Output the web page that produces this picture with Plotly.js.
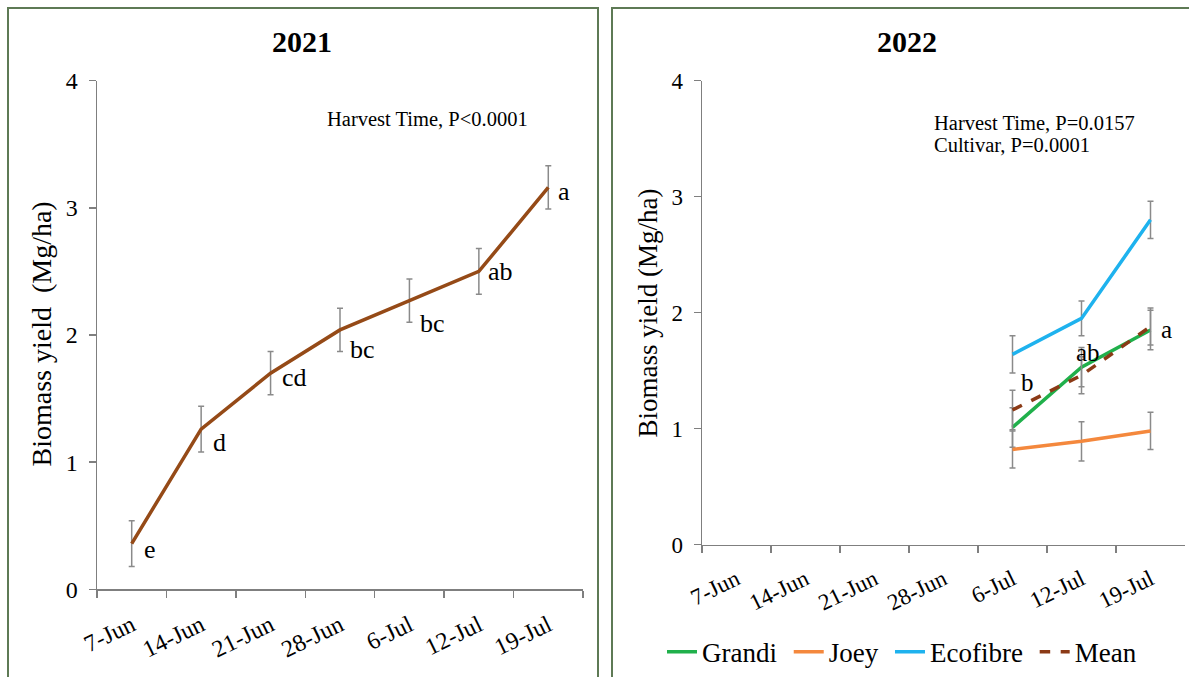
<!DOCTYPE html>
<html>
<head>
<meta charset="utf-8">
<script src="https://cdn.plot.ly/plotly-3.0.1.min.js"></script>
<style>html,body{margin:0;padding:0;background:#fff;}#chart{width:1189px;height:677px;}</style>
</head>
<body>
<div id="chart"></div>
<script>
// ---- data ----
var dates = ['7-Jun','14-Jun','21-Jun','28-Jun','6-Jul','12-Jul','19-Jul'];
var yield2021 = [0.36, 1.26, 1.70, 2.04, 2.27, 2.50, 3.16];
var err2021 = [0.18, 0.18, 0.17, 0.17, 0.17, 0.18, 0.17];
var letters2021 = ['e','d','cd','bc','bc','ab','a'];

var dates2022 = ['6-Jul','12-Jul','19-Jul'];
var grandi = [1.01, 1.53, 1.85];
var grandiErr = [0.17, 0.17, 0.17];
var joey = [0.82, 0.89, 0.98];
var joeyErr = [0.16, 0.17, 0.16];
var ecofibre = [1.64, 1.95, 2.80];
var ecofibreErr = [0.16, 0.15, 0.16];
var meanYield = [1.16, 1.46, 1.88];
var meanErr = [0.17, 0.16, 0.16];
var letters2022 = ['b','ab','a'];
var seriesNames = ['Grandi','Joey','Ecofibre','Mean'];

// ---- styling ----
var W = 1189, H = 677;
var FONT = '"Liberation Serif", serif';
var NB = '\u00a0';
var errStyle = function(arr){ return {type:'data', array:arr, visible:true, color:'#8a8a8a', thickness:1.5, width:3}; };

var traces = [
  {x: dates, y: yield2021, type:'scatter', mode:'lines', xaxis:'x', yaxis:'y', showlegend:false,
   name:'2021', line:{color:'#954A17', width:3.5}, error_y: errStyle(err2021)},
  {x: dates2022, y: grandi, type:'scatter', mode:'lines', xaxis:'x2', yaxis:'y2', name:seriesNames[0] + NB,
   line:{color:'#20B04B', width:3.5}, error_y: errStyle(grandiErr)},
  {x: dates2022, y: joey, type:'scatter', mode:'lines', xaxis:'x2', yaxis:'y2', name:seriesNames[1] + NB,
   line:{color:'#F4883D', width:3.5}, error_y: errStyle(joeyErr)},
  {x: dates2022, y: ecofibre, type:'scatter', mode:'lines', xaxis:'x2', yaxis:'y2', name:seriesNames[2] + NB,
   line:{color:'#1EB2EE', width:3.5}, error_y: errStyle(ecofibreErr)},
  {x: dates2022, y: meanYield, type:'scatter', mode:'lines', xaxis:'x2', yaxis:'y2', name:seriesNames[3],
   line:{color:'#8B3A16', width:3.5, dash:'dash'}, error_y: errStyle(meanErr)}
];

function px(x){ return x / W; }
function py(y){ return 1 - y / H; }

function xAxis(domain, fs){
  return {domain: domain, type:'category', categoryorder:'array', categoryarray: dates,
    range:[-0.5, 6.5], showline:true, linecolor:'#7f7f7f', linewidth:1.5,
    ticks:'outside', tickson:'boundaries', ticklen:7, tickcolor:'#7f7f7f', tickwidth:1.5,
    tickangle:-26, ticklabelstandoff:11, tickfont:{family:FONT, size:fs, color:'#000'},
    showgrid:false, zeroline:false, fixedrange:true};
}
function yAxis(domain, anchor, fs){
  return {domain: domain, anchor: anchor, range:[0,4], dtick:1, showline:true, linecolor:'#7f7f7f', linewidth:1.5,
    ticks:'outside', ticklen:7, tickcolor:'#7f7f7f', tickwidth:1.5, ticklabelstandoff:6,
    tickfont:{family:FONT, size:fs, color:'#000'}, showgrid:false, zeroline:false, fixedrange:true};
}

var annotations = [];
annotations.push({xref:'paper', yref:'paper', x:px(302), y:py(42), text:'<b>2021</b>', showarrow:false,
  font:{family:FONT, size:30, color:'#000'}, xanchor:'center', yanchor:'middle'});
annotations.push({xref:'paper', yref:'paper', x:px(907), y:py(42), text:'<b>2022</b>', showarrow:false,
  font:{family:FONT, size:30, color:'#000'}, xanchor:'center', yanchor:'middle'});
annotations.push({xref:'paper', yref:'paper', x:px(42), y:py(336), text:'Biomass yield  (Mg/ha)', textangle:-90,
  showarrow:false, font:{family:FONT, size:28, color:'#000'}, xanchor:'center', yanchor:'middle'});
annotations.push({xref:'paper', yref:'paper', x:px(648), y:py(315), text:'Biomass yield (Mg/ha)', textangle:-90,
  showarrow:false, font:{family:FONT, size:27, color:'#000'}, xanchor:'center', yanchor:'middle'});
annotations.push({xref:'paper', yref:'paper', x:px(325), y:py(120), text:'Harvest Time, P<0.0001',
  showarrow:false, font:{family:FONT, size:20.5, color:'#000'}, xanchor:'left', yanchor:'middle'});
annotations.push({xref:'paper', yref:'paper', x:px(932), y:py(124), text:'Harvest Time, P=0.0157',
  showarrow:false, font:{family:FONT, size:20.5, color:'#000'}, xanchor:'left', yanchor:'middle'});
annotations.push({xref:'paper', yref:'paper', x:px(932), y:py(146), text:'Cultivar, P=0.0001',
  showarrow:false, font:{family:FONT, size:20.5, color:'#000'}, xanchor:'left', yanchor:'middle'});

// letter labels
var shifts2021 = [[10,-6],[10,-13],[9,-4],[8,-20],[9,-23],[7,0],[8,-4]];
letters2021.forEach(function(t,i){
  annotations.push({xref:'x', yref:'y', x:dates[i], y:yield2021[i], text:t, showarrow:false,
    xanchor:'left', yanchor:'middle', xshift:shifts2021[i][0], yshift:shifts2021[i][1],
    font:{family:FONT, size:26, color:'#000'}});
});
var shifts2022 = [[6,28],[-8,23],[8,-3]];
letters2022.forEach(function(t,i){
  annotations.push({xref:'x2', yref:'y2', x:dates2022[i], y:meanYield[i], text:t, showarrow:false,
    xanchor:'left', yanchor:'middle', xshift:shifts2022[i][0], yshift:shifts2022[i][1],
    font:{family:FONT, size:25, color:'#000'}});
});

var borderColor = '#5e7a55';
var shapes = [
  {type:'rect', xref:'paper', yref:'paper', x0:px(8), x1:px(598), y0:-0.05, y1:py(8), line:{color:borderColor, width:2}, fillcolor:'rgba(0,0,0,0)', layer:'below'},
  {type:'rect', xref:'paper', yref:'paper', x0:px(612), x1:1.05, y0:-0.05, y1:py(8), line:{color:borderColor, width:2}, fillcolor:'rgba(0,0,0,0)', layer:'below'}
];

var layout = {
  width: W, height: H, margin:{l:0, r:0, t:0, b:0},
  paper_bgcolor:'#fff', plot_bgcolor:'rgba(0,0,0,0)',
  font:{family:FONT, color:'#000'},
  xaxis: Object.assign(xAxis([px(97), px(583)], 24), {anchor:'y'}),
  yaxis: yAxis([py(592), py(81)], 'x', 24),
  xaxis2: Object.assign(xAxis([px(702), px(1185)], 23), {anchor:'y2'}),
  yaxis2: yAxis([py(547), py(81)], 'x2', 23),
  showlegend:true,
  legend:{orientation:'h', x:px(662), y:py(655), xanchor:'left', yanchor:'middle',
    font:{family:FONT, size:27, color:'#000'}, bgcolor:'rgba(0,0,0,0)', itemwidth:30, tracegroupgap:0},
  annotations: annotations,
  shapes: shapes
};

Plotly.newPlot('chart', traces, layout, {displayModeBar:false, staticPlot:true});
</script>
</body>
</html>
